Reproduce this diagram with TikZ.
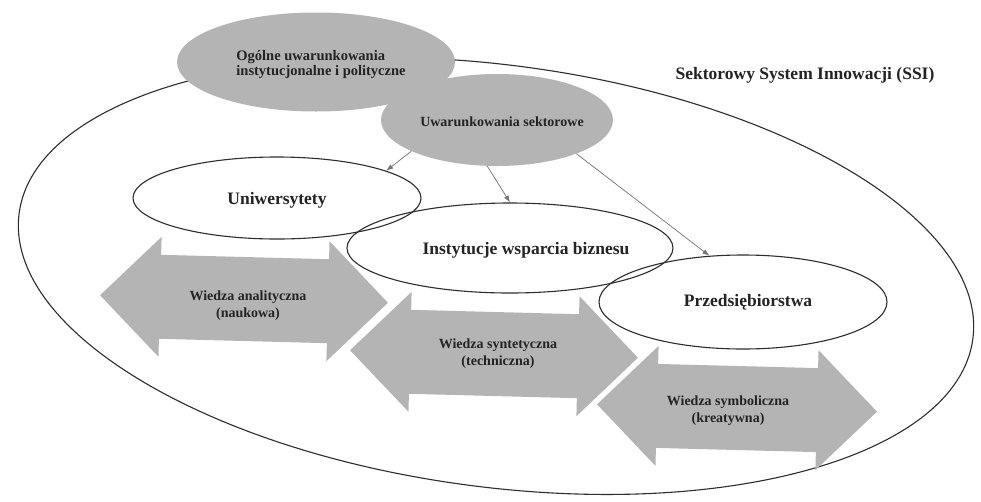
\documentclass[tikz,border=0pt]{standalone}
\usepackage{fontspec}
\setmainfont{Liberation Serif}
\usetikzlibrary{shapes.geometric,arrows.meta}
\definecolor{fillgrey}{RGB}{180,180,180}
\definecolor{linegrey}{RGB}{45,45,45}
\definecolor{conngrey}{RGB}{115,115,115}
\definecolor{txt}{RGB}{35,35,35}
\tikzset{
  outline/.style={draw=linegrey, line width=1.1pt, ellipse, inner sep=0pt},
  greyell/.style={fill=fillgrey, ellipse, inner sep=0pt},
  bigtext/.style={font=\fontsize{17.5}{20}\selectfont\bfseries, text=txt, inner sep=0pt},
  smalltext/.style={font=\fontsize{14}{17}\selectfont\bfseries, text=txt, inner sep=0pt, align=center},
  conn/.style={draw=conngrey, line width=0.7pt, -{Latex[length=7pt,width=5pt]}},
  arrowfill/.style={fill=fillgrey}
}
\begin{document}
\begin{tikzpicture}[x=1pt,y=-1pt]
\useasboundingbox (0,0) rectangle (981,501);
\fill[white] (0,0) rectangle (981,501);

% big system ellipse
\node[outline, minimum width=962pt, minimum height=422pt, rotate=-7.5] (ssi) at (496,276) {};
\node[bigtext] (ssilabel) at (805,75) {Sektorowy System Innowacji (SSI)};

% grey condition ellipses
\node[greyell, minimum width=278pt, minimum height=99pt] (ogol) at (316,62) {};
\node[greyell, minimum width=232pt, minimum height=92pt] (sek) at (497,120) {};
\node[smalltext, align=left, font=\fontsize{14.5}{15}\selectfont\bfseries] (ogoltext) at (321,65) {Ogólne uwarunkowania\\instytucjonalne i polityczne};
\node[smalltext] (sektext) at (502,122) {Uwarunkowania sektorowe};

% knowledge double arrows
\begin{scope}[shift={(244,299)}, rotate=-1.5]
  \fill[arrowfill] (-144,0) -- (-84,-60) -- (-84,-42) -- (84,-42) -- (84,-60) -- (144,0) -- (84,60) -- (84,42) -- (-84,42) -- (-84,60) -- cycle;
\end{scope}
\begin{scope}[shift={(494,354)}, rotate=-1.5]
  \fill[arrowfill] (-144,0) -- (-84,-60) -- (-84,-42) -- (84,-42) -- (84,-60) -- (144,0) -- (84,60) -- (84,42) -- (-84,42) -- (-84,60) -- cycle;
\end{scope}
\begin{scope}[shift={(737,408)}, rotate=-1.5]
  \fill[arrowfill] (-140,0) -- (-80,-60) -- (-80,-42) -- (80,-42) -- (80,-60) -- (140,0) -- (80,60) -- (80,42) -- (-80,42) -- (-80,60) -- cycle;
\end{scope}
\node[smalltext] (wa) at (248,306) {Wiedza analityczna\\(naukowa)};
\node[smalltext] (ws) at (498,354) {Wiedza syntetyczna\\(techniczna)};
\node[smalltext] (wsym) at (728,411) {Wiedza symboliczna\\(kreatywna)};

% actor ellipses
\node[outline, minimum width=288pt, minimum height=82pt] (uni) at (277,198) {};
\node[outline, minimum width=326pt, minimum height=90pt] (inst) at (510,248) {};
\node[outline, minimum width=288pt, minimum height=94pt] (prz) at (743,302) {};
\node[bigtext] (unitext) at (277,200) {Uniwersytety};
\node[bigtext] (insttext) at (526,250) {Instytucje wsparcia biznesu};
\node[bigtext] (prztext) at (748,302) {Przedsiębiorstwa};

% connectors
\draw[conn] (sek.200) -- (uni.14);
\draw[conn] (sek.258) -- (inst.90);
\draw[conn] (sek.-23) -- (prz.126);
\end{tikzpicture}
\end{document}
